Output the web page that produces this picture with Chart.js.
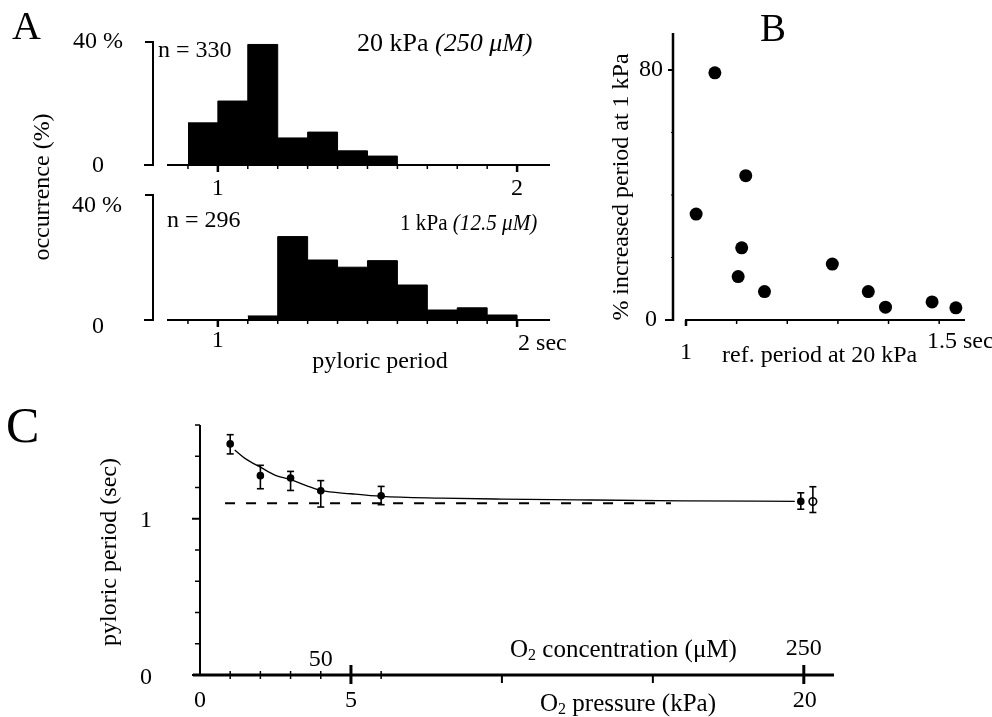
<!DOCTYPE html>
<html><head><meta charset="utf-8">
<script src="https://cdn.jsdelivr.net/npm/chart.js@4.4.0/dist/chart.umd.min.js"></script>
<style>
html,body{margin:0;padding:0;background:#fff;}
#wrap{position:relative;width:992px;height:717px;overflow:hidden;background:#fff;}
#wrap canvas{position:absolute;left:0;top:0;}
</style></head><body><div id="wrap">
<canvas id="cA1" width="992" height="717"></canvas>
<canvas id="cA2" width="992" height="717"></canvas>
<canvas id="cB" width="992" height="717"></canvas>
<canvas id="cC" width="992" height="717"></canvas>
</div>
<script>
// ---------- DATA ----------
// Panel A: histograms of pyloric period (bin start, sec) -> occurrence (%)
const binWidth = 0.1;
const binStarts20kPa = [0.9, 1.0, 1.1, 1.2, 1.3, 1.4, 1.5];
const occurrence20kPa = [13.7, 20.8, 39.2, 8.8, 10.7, 4.6, 2.9];
const binStarts1kPa = [1.1, 1.2, 1.3, 1.4, 1.5, 1.6, 1.7, 1.8, 1.9];
const occurrence1kPa = [1.3, 26.7, 19.2, 16.9, 19.0, 11.2, 3.2, 3.9, 1.6];
const periodTicks = [0.9, 1.0, 1.1, 1.2, 1.3, 1.4, 1.5, 1.6, 1.7, 1.8, 1.9, 2.0];

// Panel B: reference period at 20 kPa (sec) vs % increase at 1 kPa
const refPeriod20kPa = [1.02, 1.057, 1.118, 1.11, 1.103, 1.155, 1.289, 1.36, 1.394, 1.486, 1.533];
const pctIncrease1kPa = [33.9, 79.1, 46.2, 23.1, 13.9, 9.1, 17.9, 9.1, 4.1, 5.8, 3.9];
const refTicks = [1.0, 1.1, 1.2, 1.3, 1.4, 1.5];
const pctTicks = [0, 20, 40, 60, 80];

// Panel C: pyloric period vs O2 pressure
const o2PressureKPa = [1, 2, 3, 4, 6, 19.9];
const pyloricPeriodSec = [1.479, 1.276, 1.261, 1.179, 1.147, 1.111];
const errPlus = [0.059, 0.066, 0.042, 0.065, 0.06, 0.055];
const errMinus = [0.064, 0.084, 0.08, 0.104, 0.057, 0.05];
const recoveryPressureKPa = [20.3];
const recoveryPeriodSec = [1.11];
const recoveryErrPlus = [0.095];
const recoveryErrMinus = [0.07];
const fitPressureKPa = [1.15, 1.5, 2, 2.5, 3, 3.5, 4, 5, 6, 8, 10, 13, 16, 19.7];
const fitPeriodSec = [1.44, 1.385, 1.33, 1.278, 1.25, 1.214, 1.181, 1.16, 1.143, 1.132, 1.126, 1.12, 1.115, 1.111];
const controlPressureKPa = [0.83, 15.6];
const controlPeriodSec = [1.10, 1.10];
const periodAxisTicks = [0, 0.2, 0.4, 0.6, 0.8, 1.0, 1.2, 1.4, 1.6];
const pressureMinorTicks = [1, 2, 3, 4, 6];
const pressureLowerTicks = [10, 15];
const pressureMajorTicks = [5, 20];

// ---------- HELPERS ----------
const SERIF = '"Liberation Serif", "Times New Roman", serif';
function font(size, style) { return (style ? style + ' ' : '') + size + 'px ' + SERIF; }
function runs(ctx, x, y, parts, opt) {
  opt = opt || {};
  const sx = opt.sx || 1;
  ctx.save();
  ctx.fillStyle = '#000';
  ctx.textBaseline = 'middle';
  let total = 0;
  parts.forEach(p => { ctx.font = font(p.size || 24, p.style); p.w = ctx.measureText(p.t).width; total += p.w; });
  ctx.translate(x, y);
  if (opt.rot) ctx.rotate(opt.rot);
  ctx.scale(sx, 1);
  let cx = opt.align === 'center' ? -total / 2 : (opt.align === 'right' ? -total : 0);
  parts.forEach(p => {
    ctx.font = font(p.size || 24, p.style);
    ctx.textAlign = 'left';
    ctx.fillText(p.t, cx, p.dy || 0);
    cx += p.w;
  });
  ctx.restore();
}
function txt(ctx, s, x, y, size, align, style, rot) {
  runs(ctx, x, y, [{t: s, size: size, style: style}], {align: align, rot: rot});
}
function line(ctx, x1, y1, x2, y2, w) {
  ctx.save();
  ctx.strokeStyle = '#000';
  ctx.lineWidth = w || 2;
  ctx.beginPath(); ctx.moveTo(x1, y1); ctx.lineTo(x2, y2); ctx.stroke();
  ctx.restore();
}
function histData(starts, vals) {
  const d = starts.map((s, i) => ({x: s, y: vals[i]}));
  d.push({x: starts[starts.length - 1] + binWidth, y: 0});
  return d;
}
function makeChart(id, area, xr, yr, datasets, plugin) {
  return new Chart(document.getElementById(id), {
    type: 'scatter',
    data: {datasets: datasets},
    options: {
      responsive: false, animation: false, devicePixelRatio: 1, events: [],
      layout: {padding: {left: area.l, top: area.t, right: 992 - area.r, bottom: 717 - area.b}},
      scales: {
        x: {type: 'linear', display: false, min: xr[0], max: xr[1]},
        y: {type: 'linear', display: false, min: yr[0], max: yr[1]}
      },
      plugins: {legend: {display: false}, tooltip: {enabled: false}}
    },
    plugins: [plugin]
  });
}
function histDataset(starts, vals) {
  return {
    type: 'line', data: histData(starts, vals), stepped: 'before',
    borderColor: '#000', borderWidth: 1, backgroundColor: '#000',
    fill: 'origin', pointRadius: 0, tension: 0
  };
}
function histAxes(chart) {
  const ctx = chart.ctx, xs = chart.scales.x, ys = chart.scales.y;
  const y0 = ys.getPixelForValue(0), y40 = ys.getPixelForValue(40);
  const bx = xs.left - 14;
  line(ctx, bx, y40 - 1, bx, y0 + 1, 2);
  line(ctx, bx - 8, y40, bx + 1, y40, 2);
  line(ctx, bx - 9, y0, bx + 1, y0, 2);
  line(ctx, xs.left, y0, xs.right, y0, 2);
  periodTicks.forEach(t => {
    const px = xs.getPixelForValue(t);
    const major = Math.abs(t - 1) < 1e-6 || Math.abs(t - 2) < 1e-6;
    line(ctx, px, y0, px, y0 + (major ? 7 : 4), major ? 2.5 : 1.5);
  });
}

// ---------- PANEL A (top, 20 kPa) ----------
makeChart('cA1', {l: 167, t: 42, r: 550, b: 165}, [0.83, 2.11], [0, 40],
  [histDataset(binStarts20kPa, occurrence20kPa)],
  {id: 'a1', beforeDatasetsDraw(chart) { histAxes(chart); },
   afterDraw(chart) {
     const ctx = chart.ctx, xs = chart.scales.x;
     txt(ctx, 'A', 12, 28, 40);
     txt(ctx, '40 %', 123, 42, 24, 'right');
     txt(ctx, '0', 98, 166, 24, 'center');
     txt(ctx, 'n = 330', 158, 51, 24);
     runs(ctx, 357, 44, [{t: '20 kPa ', size: 26}, {t: '(250 μM)', size: 26, style: 'italic'}]);
     txt(ctx, '1', xs.getPixelForValue(1), 189, 24, 'center');
     txt(ctx, '2', xs.getPixelForValue(2), 189, 24, 'center');
     txt(ctx, 'occurrence (%)', 43, 187, 24, 'center', '', -Math.PI / 2);
   }});

// ---------- PANEL A (bottom, 1 kPa) ----------
makeChart('cA2', {l: 167, t: 195, r: 550, b: 320}, [0.83, 2.11], [0, 40],
  [histDataset(binStarts1kPa, occurrence1kPa)],
  {id: 'a2', beforeDatasetsDraw(chart) { histAxes(chart); },
   afterDraw(chart) {
     const ctx = chart.ctx, xs = chart.scales.x;
     txt(ctx, '40 %', 122, 206, 24, 'right');
     txt(ctx, '0', 98, 327, 24, 'center');
     txt(ctx, 'n = 296', 167, 221, 24);
     runs(ctx, 400, 224, [{t: '1 kPa ', size: 24}, {t: '(12.5 μM)', size: 24, style: 'italic'}], {sx: 0.88});
     txt(ctx, '1', xs.getPixelForValue(1), 341, 24, 'center');
     txt(ctx, '2 sec', xs.getPixelForValue(2) + 1, 344, 24);
     txt(ctx, 'pyloric period', 380, 362, 24, 'center');
   }});

// ---------- PANEL B ----------
makeChart('cB', {l: 686, t: 33, r: 965, b: 320}, [1.0, 1.551], [0, 91.84],
  [{data: refPeriod20kPa.map((v, i) => ({x: v, y: pctIncrease1kPa[i]})),
    pointRadius: 6.5, backgroundColor: '#000', borderColor: '#000', borderWidth: 0, clip: false}],
  {id: 'b', beforeDatasetsDraw(chart) {
     const ctx = chart.ctx, xs = chart.scales.x, ys = chart.scales.y;
     const ax = xs.left - 13, y0 = ys.getPixelForValue(0);
     line(ctx, ax, ys.top, ax, y0 + 1, 2.5);
     pctTicks.forEach(t => {
       const py = ys.getPixelForValue(t);
       const major = t === 0 || t === 80;
       line(ctx, ax - (t === 0 ? 8 : (major ? 5 : 2)), py, ax, py, major ? 2 : 1);
     });
     line(ctx, xs.left - 1, y0, xs.right, y0, 2);
     refTicks.forEach(t => {
       const px = xs.getPixelForValue(t);
       line(ctx, px, y0, px, y0 + (t === 1.0 ? 6 : 4), t === 1.0 ? 2.5 : 1.5);
     });
   },
   afterDraw(chart) {
     const ctx = chart.ctx, xs = chart.scales.x;
     txt(ctx, 'B', 760, 31, 39);
     txt(ctx, '80', 663, 70, 24, 'right');
     txt(ctx, '0', 657, 320, 24, 'right');
     txt(ctx, '1', xs.getPixelForValue(1), 353, 24, 'center');
     txt(ctx, 'ref. period at 20 kPa', 722, 356, 24);
     txt(ctx, '1.5 sec', 927, 342, 24);
     txt(ctx, '% increased period at 1 kPa', 622, 187, 24, 'center', '', -Math.PI / 2);
   }});

// ---------- PANEL C ----------
makeChart('cC', {l: 200, t: 425, r: 834, b: 675}, [0, 21], [0, 1.6],
  [
    {type: 'line', data: controlPressureKPa.map((v, i) => ({x: v, y: controlPeriodSec[i]})),
     borderColor: '#000', borderWidth: 2, borderDash: [10, 11], pointRadius: 0, fill: false},
    {type: 'line', data: fitPressureKPa.map((v, i) => ({x: v, y: fitPeriodSec[i]})),
     borderColor: '#000', borderWidth: 1.3, pointRadius: 0, fill: false, cubicInterpolationMode: 'monotone'},
    {data: o2PressureKPa.map((v, i) => ({x: v, y: pyloricPeriodSec[i]})),
     pointRadius: 3.8, backgroundColor: '#000', borderColor: '#000', borderWidth: 0},
    {data: recoveryPressureKPa.map((v, i) => ({x: v, y: recoveryPeriodSec[i]})),
     pointRadius: 3.8, backgroundColor: '#fff', borderColor: '#000', borderWidth: 1.6}
  ],
  {id: 'c', beforeDatasetsDraw(chart) {
     const ctx = chart.ctx, xs = chart.scales.x, ys = chart.scales.y;
     const x0 = xs.getPixelForValue(0), y0 = ys.getPixelForValue(0);
     line(ctx, x0, ys.top, x0, y0, 2);
     periodAxisTicks.forEach(t => {
       const py = ys.getPixelForValue(t);
       const major = t === 0 || Math.abs(t - 1) < 1e-6;
       line(ctx, x0 - (major ? 8 : 5), py, x0, py, major ? 2 : 1.5);
     });
     line(ctx, x0 - 7, y0, xs.right, y0, 3);
     pressureMinorTicks.forEach(t => { const px = xs.getPixelForValue(t); line(ctx, px, y0 - 4, px, y0 + 4, 1.5); });
     pressureLowerTicks.forEach(t => { const px = xs.getPixelForValue(t); line(ctx, px, y0, px, y0 + 8, 2); });
     pressureMajorTicks.forEach(t => { const px = xs.getPixelForValue(t); line(ctx, px, y0 - 10, px, y0 + 9, 3); });
   },
   afterDatasetsDraw(chart) {
     const ctx = chart.ctx, xs = chart.scales.x, ys = chart.scales.y;
     function eb(x, v, up, dn) {
       const px = xs.getPixelForValue(x), t = ys.getPixelForValue(v + up), b = ys.getPixelForValue(v - dn);
       line(ctx, px, t, px, b, 1.6);
       line(ctx, px - 3.5, t, px + 3.5, t, 1.6);
       line(ctx, px - 3.5, b, px + 3.5, b, 1.6);
     }
     o2PressureKPa.forEach((x, i) => eb(x, pyloricPeriodSec[i], errPlus[i], errMinus[i]));
     recoveryPressureKPa.forEach((x, i) => eb(x, recoveryPeriodSec[i], recoveryErrPlus[i], recoveryErrMinus[i]));
   },
   afterDraw(chart) {
     const ctx = chart.ctx, xs = chart.scales.x;
     txt(ctx, 'C', 6, 429, 50);
     txt(ctx, '1', 152, 521, 24, 'right');
     txt(ctx, '0', 152, 678, 24, 'right');
     txt(ctx, '0', xs.getPixelForValue(0), 701, 24, 'center');
     txt(ctx, '5', xs.getPixelForValue(5), 701, 24, 'center');
     txt(ctx, '20', xs.getPixelForValue(20) + 1, 701, 24, 'center');
     txt(ctx, '50', xs.getPixelForValue(4), 660, 24, 'center');
     txt(ctx, '250', xs.getPixelForValue(20), 649, 24, 'center');
     runs(ctx, 510, 650, [{t: 'O', size: 25}, {t: '2', size: 16, dy: 6}, {t: ' concentration (μM)', size: 25}]);
     runs(ctx, 540, 704, [{t: 'O', size: 25}, {t: '2', size: 16, dy: 6}, {t: ' pressure (kPa)', size: 25}]);
     txt(ctx, 'pyloric period (sec)', 110, 552, 24, 'center', '', -Math.PI / 2);
   }});
</script>
</body></html>
